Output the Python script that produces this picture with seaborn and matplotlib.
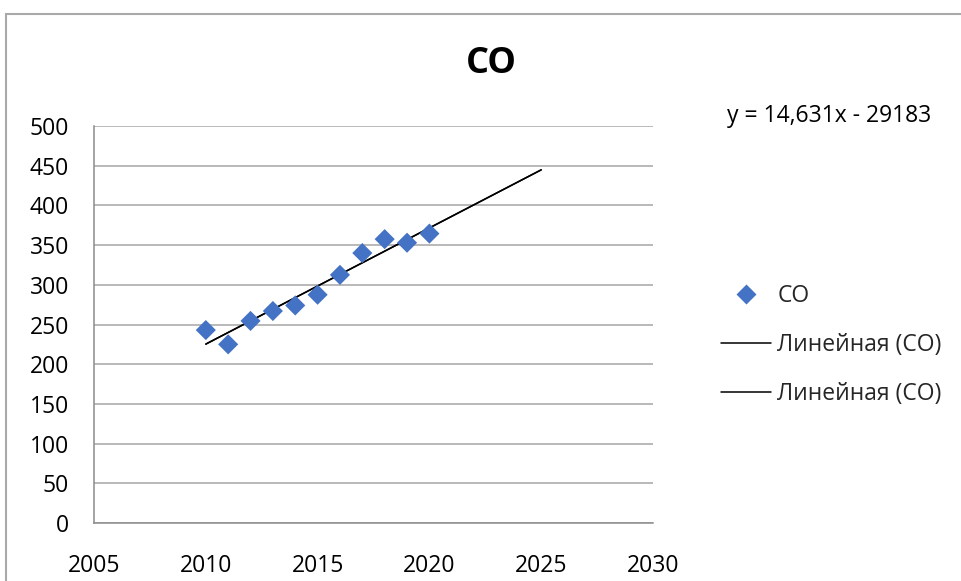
import numpy as np
import pandas as pd
import matplotlib
matplotlib.use("Agg")
import matplotlib.pyplot as plt
from matplotlib.lines import Line2D
from matplotlib.patches import Rectangle
import seaborn as sns

# Observed CO emissions by year
years = [2010, 2011, 2012, 2013, 2014, 2015, 2016, 2017, 2018, 2019, 2020]
co_values = [243, 225, 254.5, 267, 274, 287.5, 312.5, 340, 357.5, 353, 364.5]

# Linear trend (as reported on the chart) and its forecast horizon
trend_slope = 14.631
trend_intercept = -29183
trend_end_year = 2025

series_name = "CO"
trend_label = "Линейная (CO)"
x_ticks = [2005, 2010, 2015, 2020, 2025, 2030]
y_ticks = list(range(0, 501, 50))

sns.set_theme(style="white")
plt.rcParams["font.family"] = ["Open Sans", "DejaVu Sans"]

W, H = 962, 581
FS = 16.5
fig = plt.figure(figsize=(W / 100, H / 100), dpi=100)
fig.patch.set_facecolor("white")

# outer chart frame
fig.patches.append(Rectangle((6 / W, -0.05), 1.2, 1 - 14 / H + 0.05,
                             transform=fig.transFigure, fill=False,
                             edgecolor="#A9A9A9", linewidth=1.5, zorder=0))

ax = fig.add_axes([94 / W, 58 / H, (653 - 94) / W, 397 / H])

df = pd.DataFrame({"year": years, "value": co_values})
trend_x = np.array([years[0], trend_end_year], dtype=float)
trend_df = pd.DataFrame({"year": trend_x,
                         "value": trend_slope * trend_x + trend_intercept})

for _ in range(2):
    sns.lineplot(data=trend_df, x="year", y="value", ax=ax, color="black",
                 linewidth=1.1, zorder=3)
sns.scatterplot(data=df, x="year", y="value", ax=ax, marker="D", s=105,
                color="#4472C4", edgecolor="none", zorder=4)

ax.set_xlim(2005, 2030)
ax.set_ylim(0, 500)
ax.set_xticks(x_ticks)
ax.set_yticks(y_ticks)
ax.set_xlabel("")
ax.set_ylabel("")
ax.yaxis.grid(True, color="#A6A6A6", linewidth=1.1)
ax.xaxis.grid(False)
ax.set_axisbelow(True)
for s in ["top", "right"]:
    ax.spines[s].set_visible(False)
for s in ["left", "bottom"]:
    ax.spines[s].set_color("#8C8C8C")
    ax.spines[s].set_linewidth(1.1)
ax.tick_params(axis="both", which="major", direction="out", length=6,
               width=1.1, color="#8C8C8C", labelsize=FS, labelcolor="black")
ax.tick_params(axis="y", pad=12)
ax.tick_params(axis="x", pad=16)

fig.text(491 / W, 1 - 64 / H, "CO", ha="center", va="center",
         fontsize=26, fontweight="bold", color="black")
fig.text(727 / W, 1 - 116 / H, f"y = {trend_slope:.3f}".replace(".", ",")
         + f"x - {abs(trend_intercept)}", ha="left", va="center",
         fontsize=FS, color="black")

handles = [
    Line2D([], [], linestyle="none", marker="D", markersize=10,
           markerfacecolor="#4472C4", markeredgecolor="none"),
    Line2D([], [], color="black", linewidth=1.1),
    Line2D([], [], color="black", linewidth=1.1),
]
labels = [series_name, trend_label, trend_label]
fig.legend(handles, labels, loc="center left",
           bbox_to_anchor=(721 / W, 1 - 345 / H), frameon=False,
           fontsize=FS, handlelength=2.2, handletextpad=0.25,
           labelspacing=1.08, borderaxespad=0, borderpad=0)

fig.savefig("out.png", dpi=100, facecolor="white")
